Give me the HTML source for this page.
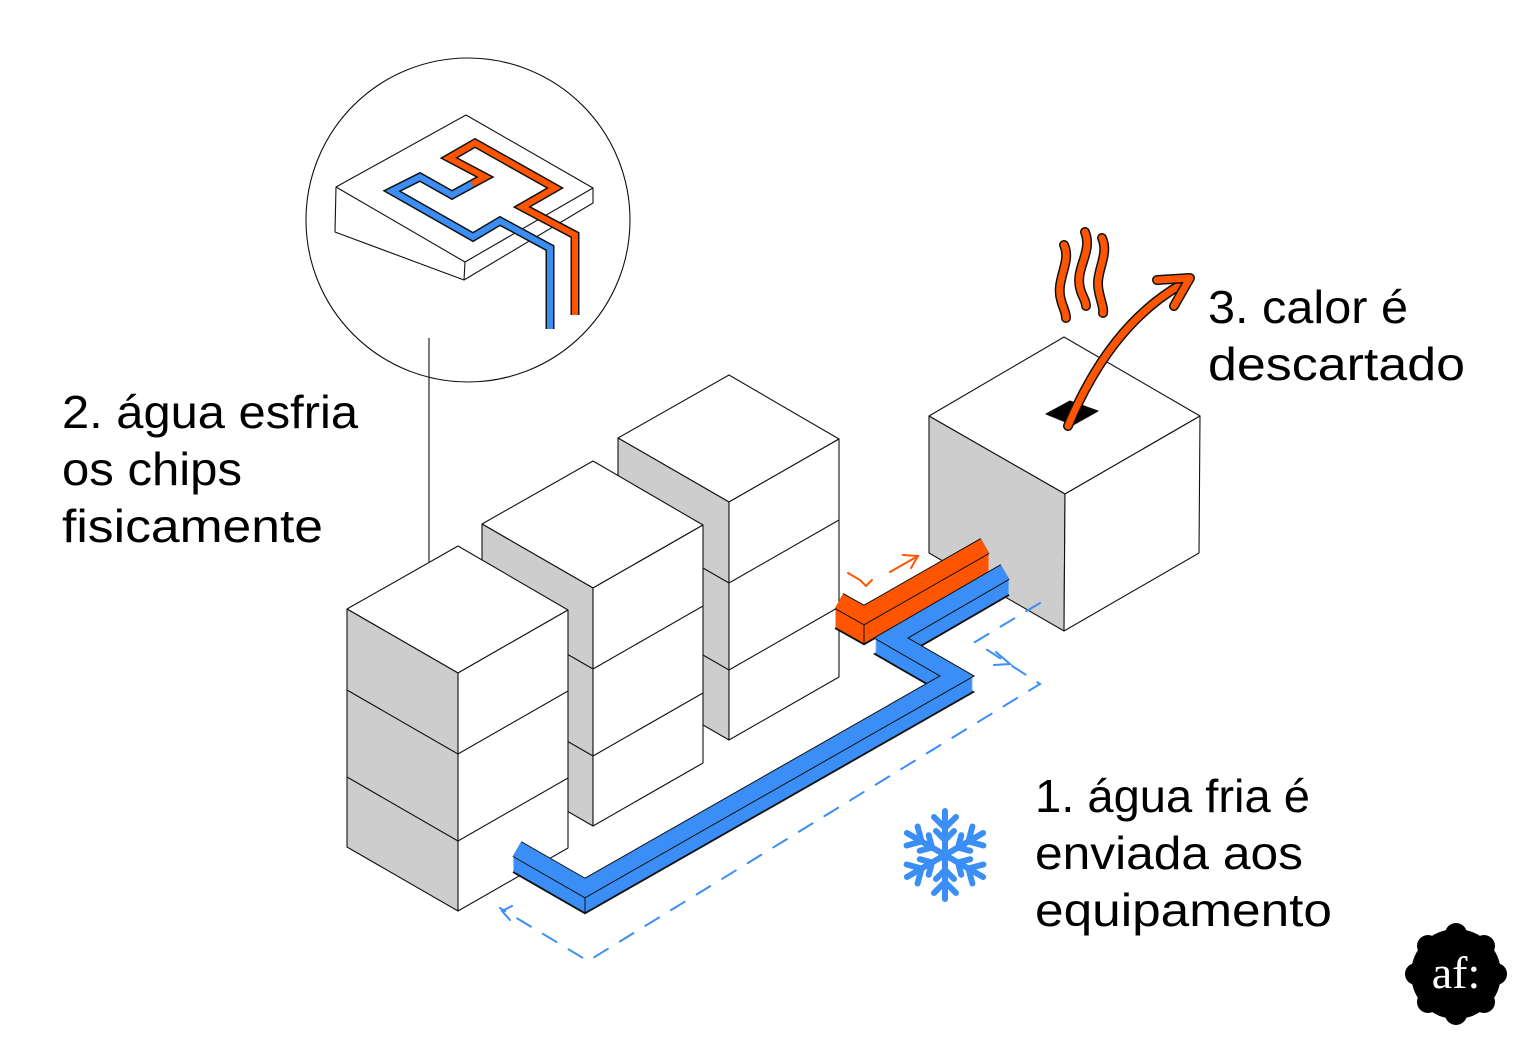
<!DOCTYPE html>
<html><head><meta charset="utf-8"><style>
html,body{margin:0;padding:0;background:#fff;}
svg{display:block;}
.t{font-family:"Liberation Sans",sans-serif;font-size:46px;fill:#000;}
</style></head><body>
<svg width="1536" height="1054" viewBox="0 0 1536 1054" xmlns="http://www.w3.org/2000/svg" xmlns:xlink="http://www.w3.org/1999/xlink">
<defs>
<polyline id="bp" points="517,849 585,888 957,676 891,638 1005,572" fill="none" stroke-linejoin="miter"/>
<polyline id="op" points="839,601 864,615 985,546" fill="none" stroke-linejoin="miter"/>
</defs>
<g stroke="#111" stroke-width="1.1" stroke-linejoin="round" fill="none">
<circle cx="468" cy="220" r="162"/>
<line x1="429" y1="338" x2="429" y2="602"/>
<polygon points="466,115 593,188 593,203 464,280 335,232 336,187" fill="#fff"/>
<polyline points="336,187 465,262 593,188"/>
<line x1="465" y1="262" x2="464" y2="280"/>
</g>
<g fill="none" stroke-linejoin="miter" stroke-linecap="butt">
<polyline points="472,184 485,177 449,158 475,143 555,188 522,207 575,235 575,315" stroke="#111" stroke-width="9"/>
<polyline points="472,184 485,177 449,158 475,143 555,188 522,207 575,235 575,315" stroke="#ff5500" stroke-width="6"/>
<polyline points="472,184 452,195 420,177 392,191 473,237 500,221 550,248 550,329" stroke="#111" stroke-width="9"/>
<polyline points="472,184 452,195 420,177 392,191 473,237 500,221 550,248 550,329" stroke="#3a8ef6" stroke-width="6"/>
</g>

<g stroke="#111" stroke-width="1.1" stroke-linejoin="round">
<polygon points="729,375 839,439 729,502 618,438" fill="#fff"/>
<polygon points="618,438 729,502 729,740 618,676" fill="#cdcdcd"/>
<polygon points="729,502 839,439 839,677 729,740" fill="#fff"/>
<polyline points="618,519 729,583 839,520" fill="none"/>
<polyline points="618,606 729,670 839,607" fill="none"/>
<polygon points="593,461 703,525 593,588 482,524" fill="#fff"/>
<polygon points="482,524 593,588 593,826 482,762" fill="#cdcdcd"/>
<polygon points="593,588 703,525 703,763 593,826" fill="#fff"/>
<polyline points="482,605 593,669 703,606" fill="none"/>
<polyline points="482,692 593,756 703,693" fill="none"/>
<polygon points="458,546 568,610 458,673 347,609" fill="#fff"/>
<polygon points="347,609 458,673 458,911 347,847" fill="#cdcdcd"/>
<polygon points="458,673 568,610 568,848 458,911" fill="#fff"/>
<polyline points="347,690 458,754 568,691" fill="none"/>
<polyline points="347,777 458,841 568,778" fill="none"/>
<polygon points="1064,337 1200,416 1065,494 929,416" fill="#fff"/>
<polygon points="929,416 1065,494 1064,631 929,553" fill="#cdcdcd"/>
<polygon points="1065,494 1200,416 1199,553 1064,631" fill="#fff"/>
<polygon points="1046,414 1070,401 1098,411 1073,425" fill="#000"/>
</g>

<g stroke="#ff5500" stroke-width="16">
<use href="#op" transform="translate(0,20)" stroke="#111" stroke-width="18"/>
<use href="#op" transform="translate(0,19)"/><use href="#op" transform="translate(0,17)"/><use href="#op" transform="translate(0,15)"/>
<use href="#op" transform="translate(0,13)"/><use href="#op" transform="translate(0,11)"/><use href="#op" transform="translate(0,9)"/>
<use href="#op" transform="translate(0,7)"/><use href="#op" transform="translate(0,5)"/><use href="#op" transform="translate(0,3)"/>
<use href="#op" transform="translate(0,1)"/>
<use href="#op" stroke="#111" stroke-width="18"/>
<use href="#op"/>
</g>
<line x1="864" y1="624" x2="864" y2="644" stroke="#111" stroke-width="1"/>
<g stroke="#3a8ef6" stroke-width="16">
<use href="#bp" transform="translate(0,16)" stroke="#111" stroke-width="18"/>
<use href="#bp" transform="translate(0,15)"/><use href="#bp" transform="translate(0,13)"/><use href="#bp" transform="translate(0,11)"/>
<use href="#bp" transform="translate(0,9)"/><use href="#bp" transform="translate(0,7)"/><use href="#bp" transform="translate(0,5)"/>
<use href="#bp" transform="translate(0,3)"/><use href="#bp" transform="translate(0,1)"/>
<use href="#bp" stroke="#111" stroke-width="18"/>
<use href="#bp"/>
</g>
<line x1="585" y1="898" x2="585" y2="914" stroke="#111" stroke-width="1"/>

<g fill="none" stroke="#ff5500" stroke-width="2" stroke-linecap="round">
<polyline points="848,573 860,580 866,586 872,580"/>
<line x1="890" y1="572" x2="918" y2="556"/>
<polyline points="903,555 918,556 911,568"/>
</g>
<g fill="none" stroke="#3a8ef6" stroke-width="2" stroke-dasharray="16,14" stroke-linecap="round">
<polyline points="1040,603 975,642 1040,684 588,961 500,908"/>
</g>
<g fill="none" stroke="#3a8ef6" stroke-width="2" stroke-linecap="round">
<polyline points="996,652 1010,664 994,665"/>
<polyline points="512,906 502,911 510,920"/>
</g>

<g stroke="#3a8ef6" stroke-width="6" stroke-linecap="round" fill="none" transform="translate(945,855)">
<g id="arm"><line x1="0" y1="0" x2="0" y2="-44"/><polyline points="-11,-38 0,-27 11,-38"/><polyline points="-9,-24 0,-15 9,-24"/></g>
<use href="#arm" transform="rotate(60)"/><use href="#arm" transform="rotate(120)"/>
<use href="#arm" transform="rotate(180)"/><use href="#arm" transform="rotate(240)"/><use href="#arm" transform="rotate(300)"/>
</g>

<g fill="none" stroke-linecap="round" stroke-linejoin="round">
<path d="M1068,426 Q1110,325 1182,284" stroke="#111" stroke-width="10"/>
<path d="M1068,426 Q1110,325 1182,284" stroke="#ff5500" stroke-width="7"/>
<polyline points="1157,280 1190,278 1174,306" stroke="#111" stroke-width="10"/>
<polyline points="1157,280 1190,278 1174,306" stroke="#ff5500" stroke-width="7"/>
<path d="M1064,245 C1072,262 1055,280 1061,300 C1063,308 1066,312 1066,318" stroke="#111" stroke-width="10"/>
<path d="M1064,245 C1072,262 1055,280 1061,300 C1063,308 1066,312 1066,318" stroke="#ff5500" stroke-width="7"/>
<path d="M1085,232 C1093,252 1075,268 1080,288 C1082,297 1086,300 1086,306" stroke="#111" stroke-width="10"/>
<path d="M1085,232 C1093,252 1075,268 1080,288 C1082,297 1086,300 1086,306" stroke="#ff5500" stroke-width="7"/>
<path d="M1102,238 C1110,256 1094,272 1099,292 C1101,302 1104,308 1103,313" stroke="#111" stroke-width="10"/>
<path d="M1102,238 C1110,256 1094,272 1099,292 C1101,302 1104,308 1103,313" stroke="#ff5500" stroke-width="7"/>
</g>

<text class="t" x="62" y="428" textLength="296" lengthAdjust="spacingAndGlyphs">2. água esfria</text>
<text class="t" x="62" y="485" textLength="180" lengthAdjust="spacingAndGlyphs">os chips</text>
<text class="t" x="62" y="542" textLength="261" lengthAdjust="spacingAndGlyphs">fisicamente</text>
<text class="t" x="1208" y="323" textLength="200" lengthAdjust="spacingAndGlyphs">3. calor é</text>
<text class="t" x="1208" y="380" textLength="257" lengthAdjust="spacingAndGlyphs">descartado</text>
<text class="t" x="1035" y="812" textLength="275" lengthAdjust="spacingAndGlyphs">1. água fria é</text>
<text class="t" x="1035" y="869" textLength="268" lengthAdjust="spacingAndGlyphs">enviada aos</text>
<text class="t" x="1035" y="926" textLength="297" lengthAdjust="spacingAndGlyphs">equipamento</text>

<g fill="#000" transform="translate(1456,974)">
<circle r="45"/>
<circle cx="0" cy="-40" r="11"/><circle cx="28" cy="-28" r="11"/><circle cx="40" cy="0" r="11"/><circle cx="28" cy="28" r="11"/>
<circle cx="0" cy="40" r="11"/><circle cx="-28" cy="28" r="11"/><circle cx="-40" cy="0" r="11"/><circle cx="-28" cy="-28" r="11"/>
<text x="0" y="14" text-anchor="middle" font-family="Liberation Serif,serif" font-size="46" fill="#fff">af:</text>
</g>
</svg>
</body></html>
